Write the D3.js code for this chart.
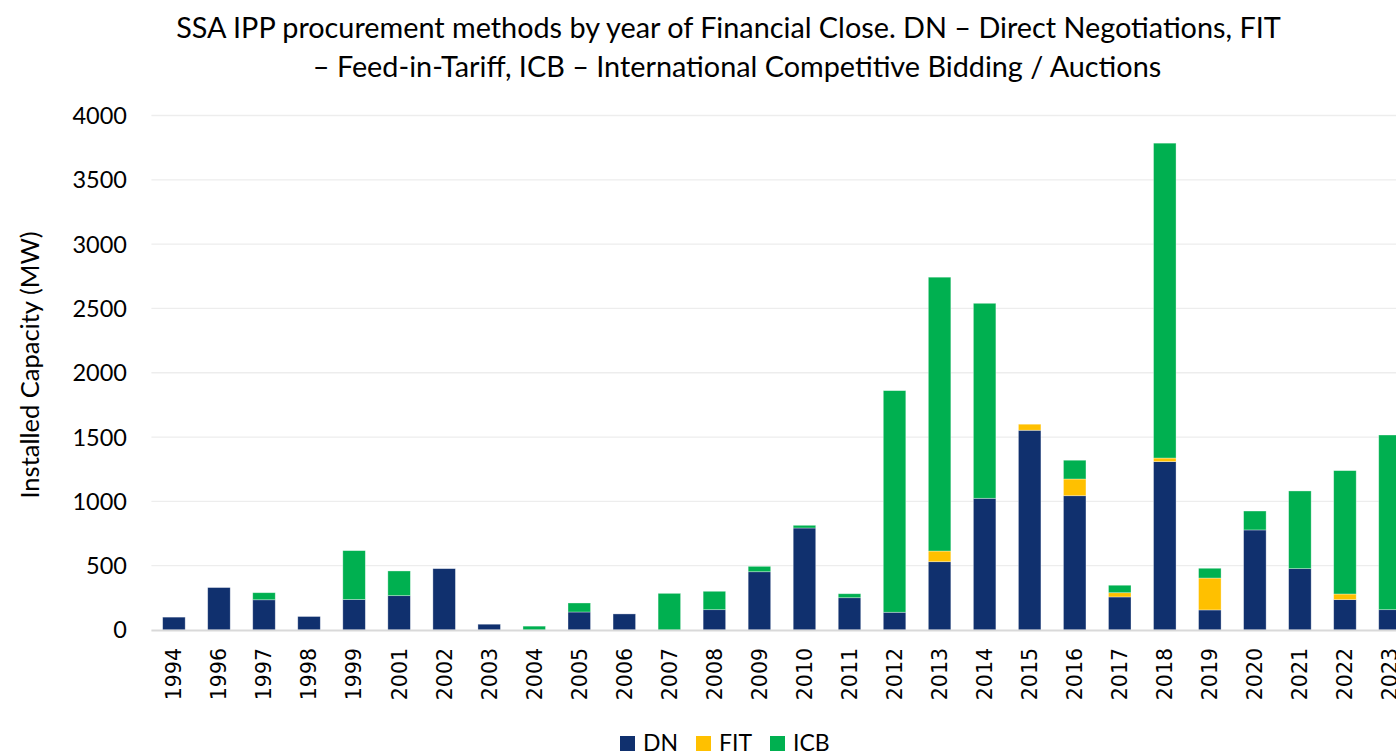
<!DOCTYPE html>
<html>
<head>
<meta charset="utf-8">
<script src="https://cdn.jsdelivr.net/npm/d3@7"></script>
<style>
  html, body { margin: 0; padding: 0; background: #ffffff; overflow: hidden; }
  text { fill: #000000; }
</style>
</head>
<body>
<div id="grafico"></div>
<script>

let width = 1396,
height = 753;

// data
let years = ["1994","1996","1997","1998","1999","2001","2002","2003","2004","2005","2006","2007","2008","2009","2010","2011","2012","2013","2014","2015","2016","2017","2018","2019","2020","2021","2022","2023"];
let dn  = [100,330,235,105,237,267,477,45,0,140,125,0,158,453,793,251,138,531,1024,1553,1044,257,1309,156,778,477,236,158];
let fit = [0,0,0,0,0,0,0,0,0,0,0,0,0,0,0,0,0,83,0,47,130,33,28,248,0,0,44,0];
let icb = [0,0,55,0,380,192,0,0,30,70,0,285,143,42,21,31,1723,2129,1516,0,146,58,2448,76,147,604,959,1358];
let yTicks = [0,500,1000,1500,2000,2500,3000,3500,4000];

let seriesNames = ["DN","FIT","ICB"];
let colori = { DN: "#10306E", FIT: "#FFC000", ICB: "#00B050" };

let titleLines = [
    "SSA IPP procurement methods by year of Financial Close. DN \u2013 Direct Negotiations, FIT",
    "\u2013 Feed-in-Tariff, ICB \u2013 International Competitive Bidding / Auctions"
];

let svg = d3.select("#grafico")
.append("svg")
.attr("width", width)
.attr("height", height);

let rows = years.map((y, i) => ({ year: y, DN: dn[i], FIT: fit[i], ICB: icb[i] }));

let x = d3.scaleBand()
.domain(years)
.range([151.4, 1412.5])
.paddingInner(0.5)
.paddingOuter(0.25);

let y = d3.scaleLinear()
.domain([0, 4000])
.range([630, 115.5]);

// gridlines
let griglia = svg.append("g");
griglia.selectAll("line")
.data(yTicks.filter(d => d > 0))
.enter().append("line")
.attr("x1", 151.4)
.attr("x2", 1412.5)
.attr("y1", d => y(d))
.attr("y2", d => y(d))
.attr("stroke", "#EDEDED")
.attr("stroke-width", 1.3);

// y tick labels
svg.append("g")
.selectAll("text")
.data(yTicks)
.enter().append("text")
.attr("x", 127)
.attr("y", d => y(d))
.attr("dy", "0.36em")
.attr("text-anchor", "end")
.style("font-family", "Lato, 'Open Sans', sans-serif")
.style("font-size", "23.5px")
.text(d => d);

// stacked bars
let stack = d3.stack().keys(seriesNames)(rows);

let barre = svg.append("g");
barre.selectAll("g")
.data(stack)
.enter().append("g")
.attr("fill", d => colori[d.key])
.selectAll("rect")
.data(d => d.filter(s => s[1] - s[0] > 0))
.enter().append("rect")
.attr("x", d => x(d.data.year))
.attr("width", x.bandwidth())
.attr("y", d => y(d[1]))
.attr("height", d => y(d[0]) - y(d[1]))
.attr("stroke", "#ffffff")
.attr("stroke-opacity", 0.45)
.attr("stroke-width", 0.75);

// baseline
svg.append("line")
.attr("x1", 151.4)
.attr("x2", 1412.5)
.attr("y1", y(0) + 0.5)
.attr("y2", y(0) + 0.5)
.attr("stroke", "#D9D9D9")
.attr("stroke-width", 2);

// x labels, rotated
svg.append("g")
.selectAll("text")
.data(years)
.enter().append("text")
.attr("transform", d => "translate(" + (x(d) + x.bandwidth() / 2) + ",648) rotate(-90)")
.attr("dy", "0.36em")
.attr("text-anchor", "end")
.style("font-family", "'DejaVu Sans', sans-serif")
.style("font-size", "20.5px")
.text(d => d);

// y axis title
svg.append("text")
.attr("transform", "translate(30,365) rotate(-90)")
.attr("dy", "0.36em")
.attr("text-anchor", "middle")
.style("font-family", "Lato, 'Open Sans', sans-serif")
.style("font-size", "25.5px")
.text("Installed Capacity (MW)");

// title
svg.append("g")
.selectAll("text")
.data(titleLines)
.enter().append("text")
.attr("x", (d, i) => i == 0 ? 728.5 : 737)
.attr("y", (d, i) => 38 + i * 38.5)
.attr("text-anchor", "middle")
.style("font-family", "Lato, 'Open Sans', sans-serif")
.style("font-size", "28.8px")
.text(d => d);

// legend
let legenda = svg.append("g");
let legX = [620, 696, 770];
seriesNames.forEach((k, i) => {
    legenda.append("rect")
    .attr("x", legX[i])
    .attr("y", 736)
    .attr("width", 15)
    .attr("height", 15)
    .attr("fill", colori[k]);
    legenda.append("text")
    .attr("x", legX[i] + 23)
    .attr("y", 751)
    .style("font-family", "Lato, 'Open Sans', sans-serif")
    .style("font-size", "23px")
    .text(k);
});

</script>
</body>
</html>
